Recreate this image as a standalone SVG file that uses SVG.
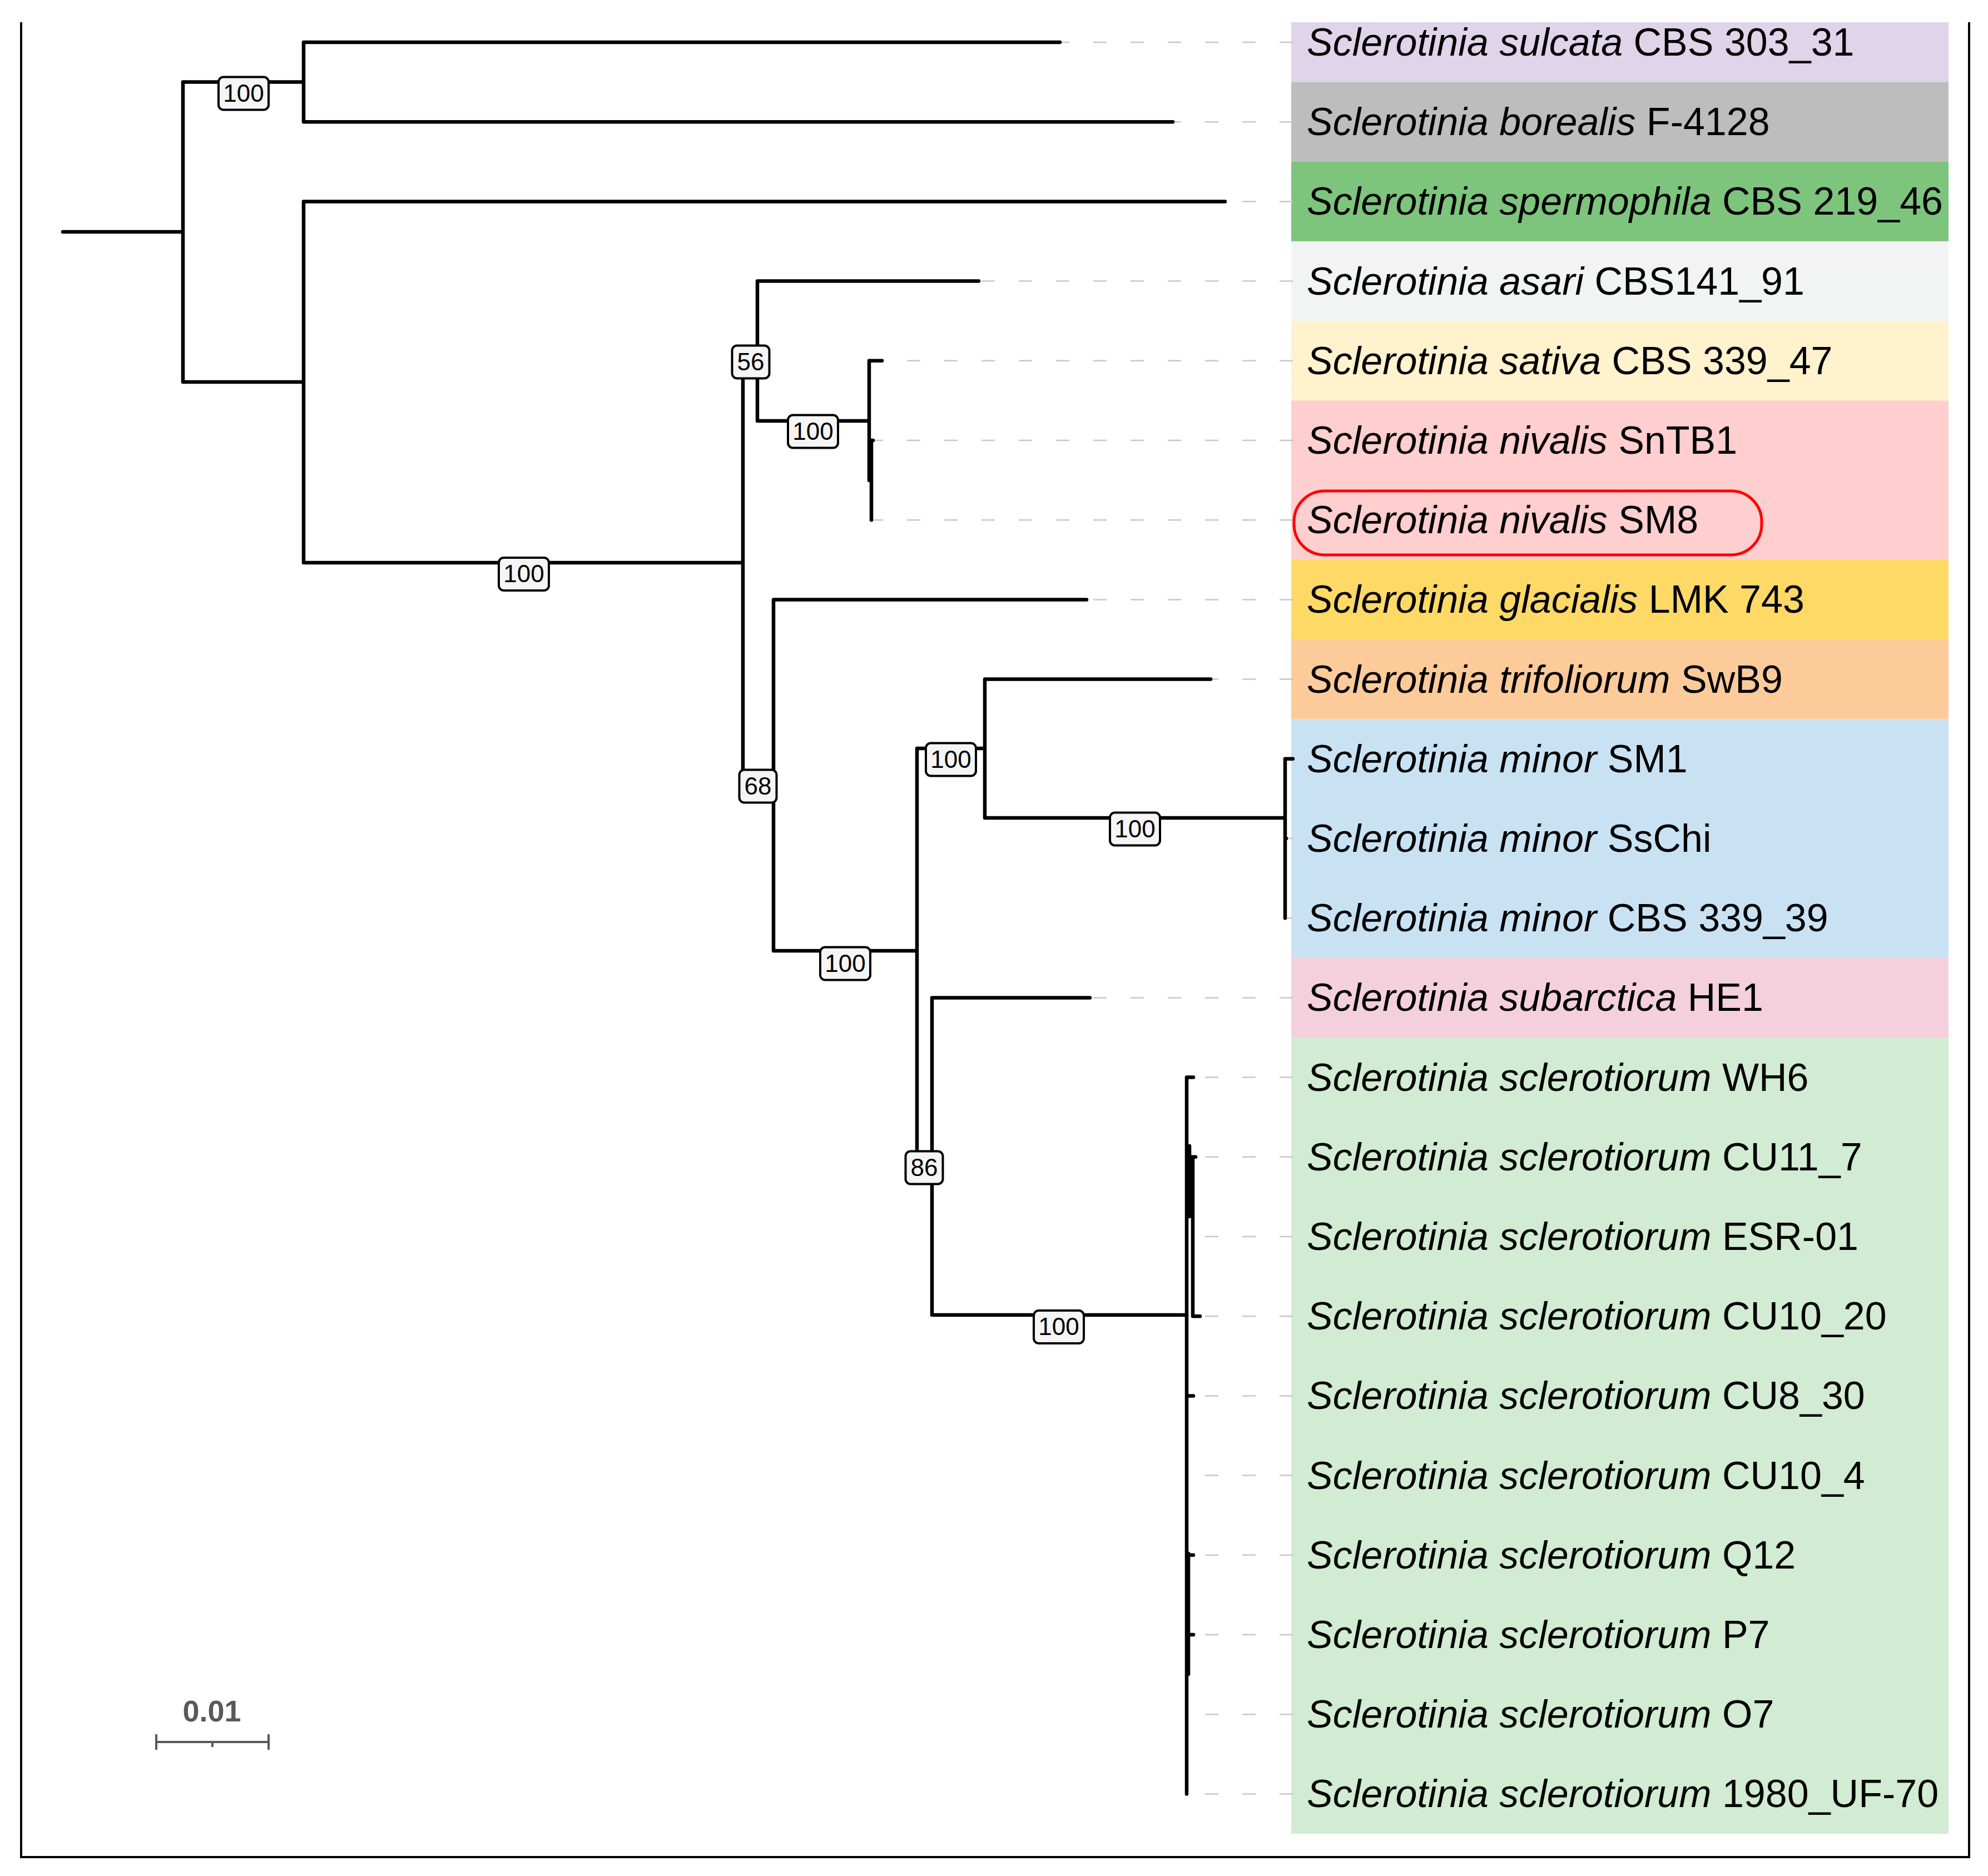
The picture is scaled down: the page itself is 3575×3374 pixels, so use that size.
<svg xmlns="http://www.w3.org/2000/svg" width="3575" height="3374" viewBox="0 0 3575 3374">
<style>
.br{stroke:#000;stroke-width:6.5;fill:none;stroke-linecap:round}
.ld{stroke:#c8c8c8;stroke-width:2.5;fill:none;stroke-dasharray:24 43}
.tl{font-family:"Liberation Sans",Arial,sans-serif;font-size:70px;fill:#000}
.nb rect{fill:#f4f5f4;stroke:#000;stroke-width:4}
.nb text{font-family:"Liberation Sans",Arial,sans-serif;font-size:44px;fill:#000;text-anchor:middle}
.fr{stroke:#000;stroke-width:4;fill:none}
.sb{stroke:#595959;stroke-width:4;fill:none}
</style>
<rect width="3575" height="3374" fill="#fff"/>
<g id="bands">
<rect x="2322" y="40" width="1182" height="107.6" fill="#e0d4ea"/>
<rect x="2322" y="147.6" width="1182" height="143.2" fill="#bdbdbd"/>
<rect x="2322" y="290.8" width="1182" height="143.2" fill="#7dc57c"/>
<rect x="2322" y="434" width="1182" height="143.2" fill="#f2f4f3"/>
<rect x="2322" y="577.2" width="1182" height="143.2" fill="#fff2cd"/>
<rect x="2322" y="720.4" width="1182" height="286.4" fill="#ffcece"/>
<rect x="2322" y="1006.8" width="1182" height="143.2" fill="#ffd966"/>
<rect x="2322" y="1150" width="1182" height="143.2" fill="#fdcb9a"/>
<rect x="2322" y="1293.2" width="1182" height="429.6" fill="#c9e2f3"/>
<rect x="2322" y="1722.8" width="1182" height="143.2" fill="#f4d0dd"/>
<rect x="2322" y="1866" width="1182" height="1432" fill="#d2ebd3"/>
</g>
<g id="connectors">
<path class="ld" d="M2325 76H1906M2325 219.2H2109M2325 362.4H2203M2325 505.6H1760M2325 648.8H1586M2325 792H1568M2325 935.2H1567M2325 1078.4H1954M2325 1221.6H2177M2325 1508H2313M2325 1651.2H2311M2325 1794.4H1960M2325 1937.6H2146M2325 2080.8H2150M2325 2224H2145M2325 2367.2H2158M2325 2510.4H2146M2325 2653.6H2134M2325 2796.8H2146M2325 2940H2146M2325 3083.2H2134M2325 3226.4H2134"/>
<path class="br" d="M113 417H329M329 147.6V687M329 147.6H546M546 76V219.2M546 76H1906M546 219.2H2109M329 687H546M546 362.4V1012M546 362.4H2203M546 1012H1336M1336 631V1394M1336 631H1362M1362 505.6V757M1362 505.6H1760M1362 757H1563M1563 648.8V864M1563 648.8H1586M1563 864H1567M1567 792V935.2M1567 792H1570M1336 1394H1391M1391 1078.4V1710M1391 1078.4H1954M1391 1710H1649M1649 1346V2080M1649 1346H1771M1771 1221.6V1471M1771 1221.6H2177M1771 1471H2311M2311 1364.8V1651.2M2311 1364.8H2325M2311 1508H2313M1649 2080H1676M1676 1794.4V2365M1676 1794.4H1960M1676 2365H2134M2134 1937.6V3226.4M2134 1937.6H2146M2134 2080.8H2150M2145 2080.8V2367.2M2145 2367.2H2158M2134 2510.4H2146M2134 2796.8H2146M2134 2940H2146"/>
<path class="br" d="M2139 2061V2188M2137 2794V3011"/>
</g>
<g id="node-labels" class="nb">
<g id="nl-root"><rect x="393" y="138.5" width="90" height="59" rx="9"/><text x="438" y="183">100</text></g>
<g id="nl-main"><rect x="897" y="1003" width="90" height="59" rx="9"/><text x="942" y="1047">100</text></g>
<g id="nl-56"><rect x="1316.5" y="621.5" width="67" height="59" rx="9"/><text x="1350" y="666">56</text></g>
<g id="nl-nivalis"><rect x="1417" y="746.5" width="90" height="59" rx="9"/><text x="1462" y="791">100</text></g>
<g id="nl-68"><rect x="1329.5" y="1384.5" width="67" height="59" rx="9"/><text x="1363" y="1429">68</text></g>
<g id="nl-ingroup"><rect x="1475" y="1703.5" width="90" height="59" rx="9"/><text x="1520" y="1748">100</text></g>
<g id="nl-trif"><rect x="1665" y="1336.5" width="90" height="59" rx="9"/><text x="1710" y="1381">100</text></g>
<g id="nl-minor"><rect x="1996" y="1461.5" width="90" height="59" rx="9"/><text x="2041" y="1506">100</text></g>
<g id="nl-86"><rect x="1628.5" y="2070.5" width="67" height="59" rx="9"/><text x="1662" y="2115">86</text></g>
<g id="nl-scler"><rect x="1859" y="2357" width="90" height="59" rx="9"/><text x="1904" y="2401">100</text></g>
</g>
<g id="tips" class="tl">
<text id="t0" x="2350" y="100"><tspan font-style="italic">Sclerotinia sulcata</tspan> CBS 303_31</text>
<text id="t1" x="2350" y="243.2"><tspan font-style="italic">Sclerotinia borealis</tspan> F-4128</text>
<text id="t2" x="2350" y="386.4"><tspan font-style="italic">Sclerotinia spermophila</tspan> CBS 219_46</text>
<text id="t3" x="2350" y="529.6"><tspan font-style="italic">Sclerotinia asari</tspan> CBS141_91</text>
<text id="t4" x="2350" y="672.8"><tspan font-style="italic">Sclerotinia sativa</tspan> CBS 339_47</text>
<text id="t5" x="2350" y="816"><tspan font-style="italic">Sclerotinia nivalis</tspan> SnTB1</text>
<text id="t6" x="2350" y="959.2"><tspan font-style="italic">Sclerotinia nivalis</tspan> SM8</text>
<text id="t7" x="2350" y="1102.4"><tspan font-style="italic">Sclerotinia glacialis</tspan> LMK 743</text>
<text id="t8" x="2350" y="1245.6"><tspan font-style="italic">Sclerotinia trifoliorum</tspan> SwB9</text>
<text id="t9" x="2350" y="1388.8"><tspan font-style="italic">Sclerotinia minor</tspan> SM1</text>
<text id="t10" x="2350" y="1532"><tspan font-style="italic">Sclerotinia minor</tspan> SsChi</text>
<text id="t11" x="2350" y="1675.2"><tspan font-style="italic">Sclerotinia minor</tspan> CBS 339_39</text>
<text id="t12" x="2350" y="1818.4"><tspan font-style="italic">Sclerotinia subarctica</tspan> HE1</text>
<text id="t13" x="2350" y="1961.6"><tspan font-style="italic">Sclerotinia sclerotiorum</tspan> WH6</text>
<text id="t14" x="2350" y="2104.8"><tspan font-style="italic">Sclerotinia sclerotiorum</tspan> CU11_7</text>
<text id="t15" x="2350" y="2248"><tspan font-style="italic">Sclerotinia sclerotiorum</tspan> ESR-01</text>
<text id="t16" x="2350" y="2391.2"><tspan font-style="italic">Sclerotinia sclerotiorum</tspan> CU10_20</text>
<text id="t17" x="2350" y="2534.4"><tspan font-style="italic">Sclerotinia sclerotiorum</tspan> CU8_30</text>
<text id="t18" x="2350" y="2677.6"><tspan font-style="italic">Sclerotinia sclerotiorum</tspan> CU10_4</text>
<text id="t19" x="2350" y="2820.8"><tspan font-style="italic">Sclerotinia sclerotiorum</tspan> Q12</text>
<text id="t20" x="2350" y="2964"><tspan font-style="italic">Sclerotinia sclerotiorum</tspan> P7</text>
<text id="t21" x="2350" y="3107.2"><tspan font-style="italic">Sclerotinia sclerotiorum</tspan> O7</text>
<text id="t22" x="2350" y="3250.4"><tspan font-style="italic">Sclerotinia sclerotiorum</tspan> 1980_UF-70</text>
</g>
<g id="highlight">
<rect x="2327" y="883" width="841" height="115" rx="55" ry="55" fill="none" stroke="#ff0000" stroke-width="5"/>
</g>
<g id="scale-bar">
<text x="381" y="3096" font-family="Liberation Sans, Arial, sans-serif" font-size="54" font-weight="bold" fill="#595959" text-anchor="middle">0.01</text>
<path class="sb" d="M281 3133H483M281 3119V3147M483 3119V3147M382 3133V3142"/>
</g>
<g id="frame">
<path class="fr" d="M38 40V3340H3541V40"/>
</g>
</svg>
